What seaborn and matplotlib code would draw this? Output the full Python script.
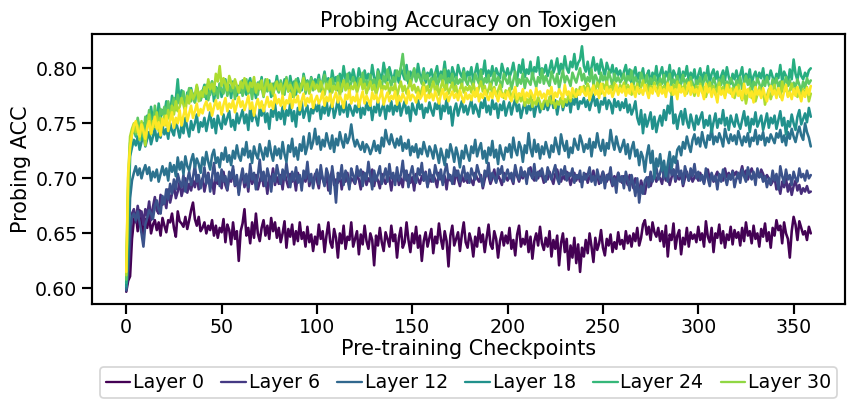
import numpy as np
import pandas as pd
import matplotlib
matplotlib.use("Agg")
import matplotlib.pyplot as plt
from matplotlib.lines import Line2D
import seaborn as sns

# Probing accuracy per checkpoint (x1000)
layer_0 = [
    597, 607, 611, 645, 662, 668, 652, 671, 660, 648, 663, 655, 667, 650, 658, 662, 653, 660, 648, 664,
    657, 651, 662, 660, 668, 655, 647, 670, 661, 659, 656, 665, 654, 662, 671, 678, 663, 657, 665, 652,
    655, 660, 650, 657, 653, 662, 648, 657, 646, 655, 651, 663, 642, 658, 653, 640, 660, 645, 652, 625,
    652, 659, 672, 648, 655, 641, 660, 646, 668, 650, 643, 655, 662, 648, 657, 645, 664, 652, 660, 646,
    655, 642, 650, 661, 637, 654, 647, 658, 640, 652, 643, 660, 645, 651, 638, 656, 642, 649, 634, 647,
    640, 658, 645, 652, 633, 648, 660, 642, 637, 654, 646, 628, 650, 641, 657, 636, 647, 644, 660, 638,
    645, 652, 631, 649, 640, 657, 643, 636, 650, 644, 621, 648, 639, 655, 642, 634, 651, 645, 638, 657,
    643, 649, 628, 646, 655, 637, 642, 660, 644, 633, 650, 641, 656, 637, 648, 625, 643, 651, 638, 646,
    654, 632, 647, 641, 659, 645, 636, 652, 643, 620, 648, 657, 639, 645, 651, 634, 649, 660, 642, 637,
    650, 643, 629, 647, 638, 655, 642, 649, 633, 646, 658, 640, 636, 652, 645, 628, 643, 651, 639, 648,
    641, 655, 636, 644, 630, 649, 657, 638, 645, 640, 652, 633, 647, 627, 643, 650, 639, 656, 641, 635,
    646, 638, 652, 629, 644, 636, 648, 621, 641, 650, 633, 645, 617, 639, 628, 646, 623, 640, 615, 637,
    629, 644, 632, 650, 638, 624, 646, 635, 641, 653, 637, 630, 645, 639, 649, 633, 642, 636, 651, 640,
    644, 636, 652, 641, 648, 638, 650, 643, 655, 639, 646, 658, 662, 649, 656, 644, 660, 651, 647, 655,
    643, 652, 638, 657, 629, 649, 644, 659, 636, 648, 653, 631, 646, 640, 655, 638, 651, 645, 649, 642,
    656, 644, 650, 638, 661, 647, 642, 655, 633, 650, 646, 658, 641, 652, 637, 649, 644, 656, 640, 653,
    646, 651, 639, 655, 643, 660, 648, 652, 641, 657, 645, 650, 638, 654, 647, 659, 643, 651, 637, 655,
    648, 662, 653, 657, 641, 660, 650, 645, 628, 652, 665, 658, 644, 661, 655, 649, 652, 644, 656, 650,
]
layer_4 = [
    600, 612, 640, 668, 672, 660, 675, 665, 670, 658, 672, 666, 679, 662, 674, 683, 671, 668, 685, 676,
    681, 673, 690, 678, 686, 694, 682, 688, 697, 684, 691, 700, 687, 695, 689, 698, 692, 703, 690, 696,
    700, 688, 697, 705, 692, 699, 686, 702, 695, 700, 691, 706, 694, 689, 701, 697, 708, 693, 700, 687,
    698, 704, 692, 701, 688, 707, 695, 699, 703, 690, 697, 705, 693, 700, 686, 702, 698, 709, 694, 701,
    695, 703, 690, 706, 698, 692, 704, 697, 701, 689, 705, 699, 694, 702, 697, 708, 693, 700, 696, 704,
    698, 691, 706, 700, 695, 703, 689, 701, 707, 694, 699, 696, 704, 690, 702, 697, 705, 693, 700, 698,
    695, 703, 699, 690, 706, 701, 694, 700, 697, 708, 693, 702, 698, 691, 704, 699, 695, 703, 700, 689,
    701, 697, 705, 694, 700, 692, 707, 698, 703, 696, 701, 689, 704, 699, 695, 702, 698, 706, 693, 700,
    697, 703, 699, 692, 705, 700, 696, 702, 690, 704, 698, 701, 695, 707, 699, 693, 703, 697, 700, 696,
    702, 698, 694, 705, 700, 697, 703, 691, 699, 706, 702, 695, 700, 708, 697, 703, 699, 694, 705, 701,
    698, 704, 700, 695, 709, 702, 697, 703, 700, 706, 699, 704, 710, 701, 698, 705, 700, 707, 703, 696,
    702, 699, 706, 700, 695, 704, 708, 701, 697, 703, 699, 706, 702, 694, 700, 705, 698, 703, 697, 701,
    699, 704, 696, 702, 700, 707, 698, 703, 695, 701, 706, 700, 697, 704, 699, 693, 702, 698, 705, 700,
    696, 702, 699, 694, 703, 697, 691, 700, 695, 688, 698, 692, 686, 696, 701, 693, 699, 704, 697, 702,
    700, 695, 706, 698, 703, 694, 701, 708, 697, 702, 699, 705, 693, 700, 706, 698, 703, 697, 701, 704,
    698, 705, 700, 696, 703, 708, 699, 704, 697, 702, 706, 700, 703, 698, 709, 701, 705, 699, 707, 703,
    706, 700, 704, 711, 702, 707, 699, 705, 709, 703, 700, 706, 701, 708, 704, 698, 703, 700, 694, 697,
    701, 690, 694, 686, 697, 692, 700, 688, 695, 685, 693, 698, 689, 694, 686, 691, 688, 693, 687, 688,
]
layer_8 = [
    598, 620, 655, 665, 668, 662, 670, 660, 650, 638, 658, 664, 671, 668, 663, 675, 680, 672, 668, 684,
    677, 690, 681, 695, 686, 699, 690, 704, 697, 692, 703, 688, 698, 706, 694, 701, 712, 697, 703, 691,
    699, 710, 695, 704, 688, 701, 714, 698, 705, 693, 708, 697, 702, 690, 706, 700, 711, 694, 703, 685,
    700, 709, 696, 704, 692, 713, 699, 705, 690, 702, 717, 698, 706, 693, 709, 701, 688, 704, 697, 712,
    703, 695, 708, 699, 714, 701, 692, 706, 698, 710, 696, 703, 689, 707, 700, 715, 697, 704, 691, 702,
    708, 695, 712, 700, 693, 709, 703, 686, 711, 698, 678, 705, 699, 712, 694, 707, 701, 690, 709, 703,
    696, 711, 702, 708, 693, 705, 699, 715, 702, 690, 707, 698, 704, 711, 695, 702, 709, 697, 713, 700,
    705, 694, 710, 698, 703, 716, 699, 707, 692, 704, 711, 700, 696, 709, 703, 714, 698, 705, 692, 708,
    701, 697, 712, 704, 699, 708, 694, 706, 713, 700, 703, 695, 710, 702, 707, 697, 704, 711, 699, 705,
    696, 709, 703, 699, 712, 705, 700, 693, 707, 702, 714, 698, 705, 701, 696, 709, 704, 711, 697, 703,
    708, 700, 705, 697, 712, 703, 699, 710, 702, 706, 695, 709, 704, 700, 713, 698, 706, 702, 709, 701,
    697, 710, 704, 699, 706, 712, 700, 695, 708, 703, 711, 698, 705, 702, 709, 696, 703, 700, 707, 692,
    705, 699, 703, 710, 697, 702, 694, 708, 700, 696, 706, 691, 703, 699, 710, 694, 700, 687, 705, 697,
    702, 691, 706, 698, 689, 703, 695, 684, 700, 678, 693, 686, 698, 701, 692, 706, 697, 703, 710, 699,
    705, 712, 700, 709, 697, 714, 703, 708, 699, 716, 702, 707, 695, 711, 704, 698, 709, 702, 713, 700,
    706, 698, 703, 695, 709, 700, 693, 705, 698, 702, 690, 704, 697, 708, 701, 694, 703, 699, 706, 692,
    700, 705, 696, 708, 702, 697, 710, 703, 699, 706, 694, 709, 701, 704, 697, 702, 692, 700, 695, 707,
    698, 704, 690, 711, 702, 696, 708, 699, 703, 694, 706, 700, 697, 709, 701, 704, 698, 707, 700, 703,
]
layer_12 = [
    600, 628, 682, 698, 705, 711, 703, 709, 700, 707, 712, 704, 710, 698, 706, 701, 708, 697, 704, 711,
    703, 709, 698, 714, 706, 712, 702, 719, 708, 715, 704, 720, 711, 707, 716, 722, 710, 718, 713, 705,
    719, 712, 724, 715, 708, 721, 726, 714, 719, 710, 723, 717, 728, 715, 721, 712, 725, 718, 730, 720,
    716, 727, 721, 733, 719, 725, 714, 729, 722, 718, 731, 724, 717, 728, 720, 734, 723, 716, 729, 721,
    727, 718, 733, 722, 715, 730, 724, 736, 720, 728, 717, 731, 725, 738, 722, 729, 741, 727, 733, 745,
    731, 738, 726, 735, 729, 741, 733, 727, 739, 724, 736, 730, 742, 734, 728, 740, 732, 737, 749, 736,
    729, 735, 730, 726, 733, 724, 731, 728, 722, 727, 734, 725, 730, 723, 737, 729, 744, 735, 731, 740,
    733, 728, 736, 730, 738, 725, 732, 727, 735, 721, 729, 724, 731, 719, 727, 722, 733, 726, 720, 729,
    725, 718, 730, 723, 714, 727, 720, 712, 726, 719, 731, 724, 715, 728, 721, 710, 725, 718, 730, 722,
    716, 729, 723, 735, 720, 727, 732, 718, 725, 714, 728, 721, 734, 719, 726, 713, 730, 722, 717, 728,
    724, 731, 719, 737, 726, 721, 733, 728, 715, 730, 723, 741, 727, 720, 735, 724, 731, 718, 729, 722,
    733, 726, 719, 730, 724, 737, 729, 722, 740, 731, 725, 734, 719, 728, 723, 736, 730, 726, 739, 733,
    724, 731, 727, 736, 720, 733, 728, 741, 730, 725, 735, 721, 732, 727, 744, 733, 726, 738, 730, 724,
    729, 735, 722, 731, 718, 727, 733, 720, 726, 712, 724, 719, 706, 721, 730, 714, 725, 700, 718, 711,
    722, 707, 716, 702, 713, 724, 709, 720, 714, 726, 729, 721, 733, 727, 738, 730, 724, 735, 740, 731,
    737, 729, 742, 733, 728, 739, 735, 746, 731, 738, 733, 741, 736, 729, 745, 737, 732, 740, 734, 739,
    731, 743, 736, 730, 738, 733, 741, 729, 737, 734, 744, 731, 739, 735, 742, 730, 737, 733, 740, 736,
    732, 741, 737, 744, 733, 739, 730, 742, 736, 745, 738, 733, 741, 747, 739, 735, 750, 742, 737, 729,
]
layer_16 = [
    602, 655, 720, 728, 735, 730, 738, 726, 733, 740, 729, 736, 742, 731, 738, 745, 734, 741, 737, 748,
    740, 745, 736, 750, 743, 739, 752, 745, 737, 748, 741, 755, 746, 738, 752, 744, 750, 758, 742, 751,
    747, 755, 743, 752, 760, 746, 754, 741, 757, 750, 745, 758, 749, 755, 761, 747, 753, 744, 759, 750,
    756, 762, 750, 758, 744, 765, 752, 760, 755, 748, 763, 757, 766, 751, 759, 745, 762, 756, 768, 753,
    760, 754, 765, 749, 762, 757, 768, 752, 761, 747, 764, 758, 770, 755, 761, 766, 752, 763, 759, 767,
    761, 768, 754, 765, 759, 771, 757, 764, 769, 755, 762, 773, 758, 766, 760, 770, 756, 767, 762, 757,
    766, 760, 771, 755, 764, 758, 769, 762, 767, 753, 765, 760, 772, 757, 763, 768, 754, 766, 761, 770,
    758, 766, 761, 772, 757, 764, 770, 759, 765, 752, 768, 762, 758, 771, 763, 767, 755, 764, 760, 769,
    762, 757, 768, 763, 770, 754, 766, 761, 772, 759, 765, 748, 762, 768, 757, 764, 770, 760, 766, 758,
    765, 771, 759, 767, 762, 756, 769, 764, 773, 760, 766, 758, 771, 763, 768, 755, 767, 762, 770, 757,
    764, 769, 758, 766, 772, 761, 767, 755, 763, 770, 759, 766, 762, 771, 756, 765, 769, 760, 767, 763,
    770, 762, 767, 775, 764, 771, 758, 768, 773, 762, 769, 766, 774, 760, 772, 767, 776, 763, 770, 768,
    773, 765, 771, 762, 769, 776, 766, 772, 760, 770, 767, 774, 763, 771, 768, 759, 772, 765, 770, 762,
    769, 764, 772, 760, 767, 758, 763, 770, 755, 749, 762, 741, 758, 747, 753, 760, 745, 756, 742, 751,
    757, 748, 762, 753, 766, 759, 775, 750, 758, 745, 756, 761, 749, 763, 752, 746, 758, 751, 744, 757,
    749, 755, 760, 746, 753, 748, 757, 742, 751, 759, 746, 754, 750, 762, 748, 755, 744, 757, 751, 747,
    758, 750, 745, 753, 761, 748, 756, 742, 754, 749, 760, 747, 752, 757, 744, 751, 759, 746, 755, 750,
    757, 745, 753, 761, 748, 755, 740, 752, 747, 758, 750, 744, 756, 762, 749, 754, 759, 751, 764, 756,
]
layer_20 = [
    605, 680, 728, 740, 745, 738, 752, 744, 735, 750, 742, 757, 748, 765, 752, 760, 747, 768, 755, 762,
    758, 770, 763, 757, 775, 766, 772, 790, 768, 780, 773, 765, 778, 770, 782, 774, 769, 783, 775, 771,
    779, 785, 772, 781, 776, 788, 770, 783, 778, 786, 774, 781, 790, 777, 785, 773, 788, 780, 775, 784,
    778, 789, 783, 776, 786, 791, 779, 784, 773, 787, 781, 792, 776, 785, 780, 789, 774, 786, 782, 793,
    781, 787, 778, 790, 785, 779, 793, 783, 788, 776, 791, 784, 780, 795, 786, 789, 778, 792, 785, 790,
    786, 794, 781, 789, 797, 785, 791, 783, 798, 788, 792, 780, 795, 787, 802, 790, 785, 796, 789, 799,
    791, 787, 800, 793, 785, 798, 790, 795, 788, 803, 792, 786, 799, 794, 790, 805, 795, 789, 801, 794,
    788, 798, 792, 787, 800, 795, 790, 803, 786, 797, 792, 799, 789, 804, 794, 791, 800, 787, 796, 793,
    799, 790, 795, 802, 788, 797, 793, 806, 791, 798, 787, 801, 795, 790, 803, 796, 792, 800, 789, 797,
    793, 801, 788, 796, 804, 791, 799, 795, 807, 790, 798, 793, 802, 789, 800, 795, 791, 804, 797, 793,
    800, 792, 797, 805, 794, 790, 803, 796, 808, 792, 799, 795, 806, 791, 801, 797, 810, 794, 800, 796,
    803, 793, 799, 807, 796, 801, 809, 795, 804, 798, 811, 800, 796, 806, 801, 813, 799, 805, 808, 820,
    802, 797, 806, 794, 801, 810, 798, 804, 795, 808, 800, 793, 805, 799, 796, 803, 791, 800, 794, 798,
    790, 797, 803, 792, 799, 786, 795, 801, 789, 796, 792, 800, 787, 794, 798, 785, 796, 790, 802, 788,
    795, 801, 789, 797, 792, 803, 787, 798, 794, 790, 800, 786, 797, 793, 802, 788, 796, 791, 799, 785,
    794, 800, 788, 796, 791, 802, 787, 795, 799, 790, 797, 785, 793, 798, 789, 801, 792, 786, 795, 790,
    798, 789, 794, 801, 787, 795, 790, 799, 786, 793, 797, 788, 796, 791, 800, 787, 794, 790, 798, 792,
    787, 795, 791, 803, 788, 797, 793, 786, 799, 790, 808, 795, 789, 801, 793, 790, 796, 792, 798, 800,
]
layer_24 = [
    608, 690, 732, 742, 748, 740, 755, 745, 750, 738, 756, 748, 762, 752, 745, 766, 756, 749, 763, 758,
    765, 754, 770, 760, 767, 773, 762, 776, 768, 771, 779, 766, 774, 782, 770, 777, 769, 784, 775, 771,
    780, 774, 785, 771, 779, 788, 776, 782, 773, 786, 780, 777, 789, 775, 783, 779, 787, 772, 784, 778,
    786, 775, 781, 790, 777, 784, 772, 787, 781, 776, 788, 783, 774, 790, 779, 785, 780, 775, 787, 782,
    778, 789, 783, 776, 792, 780, 787, 774, 785, 790, 779, 786, 782, 793, 777, 788, 784, 791, 780, 786,
    783, 790, 779, 787, 794, 782, 788, 776, 791, 785, 781, 793, 786, 779, 789, 784, 795, 780, 787, 792,
    785, 780, 791, 787, 796, 783, 789, 781, 794, 786, 790, 779, 797, 788, 784, 793, 787, 799, 790, 784,
    792, 787, 798, 793, 801, 813, 795, 789, 797, 784, 792, 800, 788, 795, 791, 786, 797, 790, 794, 783,
    791, 786, 796, 782, 790, 794, 787, 799, 783, 791, 788, 795, 780, 792, 786, 790, 784, 797, 789, 785,
    792, 788, 783, 795, 790, 786, 798, 784, 791, 787, 794, 781, 789, 796, 785, 792, 788, 783, 795, 790,
    786, 793, 781, 789, 797, 784, 790, 786, 795, 782, 791, 788, 785, 796, 789, 783, 792, 787, 799, 786,
    793, 788, 784, 797, 791, 786, 795, 782, 790, 798, 787, 793, 789, 784, 796, 791, 787, 794, 800, 789,
    795, 786, 792, 788, 799, 785, 794, 790, 783, 796, 789, 793, 786, 797, 791, 784, 795, 788, 792, 787,
    790, 795, 786, 793, 789, 798, 785, 792, 788, 784, 796, 790, 787, 794, 781, 791, 786, 793, 788, 784,
    791, 786, 794, 780, 789, 795, 784, 790, 786, 793, 781, 788, 794, 785, 790, 783, 792, 787, 780, 789,
    786, 792, 783, 789, 794, 781, 788, 784, 791, 786, 779, 790, 785, 793, 782, 788, 784, 791, 787, 780,
    789, 784, 792, 781, 787, 793, 785, 790, 778, 788, 783, 791, 786, 780, 789, 784, 792, 785, 781, 790,
    785, 791, 783, 788, 779, 786, 792, 784, 789, 781, 787, 783, 790, 785, 779, 788, 782, 791, 786, 789,
]
layer_28 = [
    612, 700, 738, 745, 750, 742, 748, 735, 752, 744, 730, 746, 758, 740, 752, 747, 760, 743, 755, 750,
    757, 748, 762, 753, 766, 758, 770, 761, 765, 773, 767, 760, 775, 768, 780, 772, 776, 785, 770, 779,
    774, 783, 777, 790, 781, 786, 779, 795, 788, 802, 784, 791, 786, 780, 793, 787, 782, 790, 784, 778,
    788, 782, 791, 785, 779, 787, 783, 792, 778, 786, 781, 789, 775, 784, 790, 780, 786, 777, 783, 788,
    780, 786, 776, 784, 789, 779, 785, 781, 774, 787, 782, 778, 785, 791, 780, 786, 777, 783, 788, 781,
    785, 779, 788, 782, 776, 786, 781, 790, 778, 784, 780, 787, 775, 783, 789, 780, 786, 778, 784, 781,
    787, 778, 784, 790, 781, 786, 777, 783, 788, 780, 785, 776, 782, 789, 779, 784, 781, 787, 777, 783,
    780, 786, 774, 782, 788, 779, 784, 777, 783, 789, 780, 785, 778, 783, 775, 781, 787, 779, 784, 776,
    782, 788, 779, 784, 776, 783, 789, 780, 785, 777, 782, 787, 779, 784, 773, 781, 786, 778, 783, 780,
    784, 778, 786, 780, 775, 783, 788, 779, 784, 776, 781, 786, 778, 783, 775, 780, 785, 777, 773, 780,
    776, 782, 771, 778, 773, 769, 777, 770, 775, 766, 772, 768, 776, 765, 771, 767, 774, 769, 763, 770,
    772, 766, 774, 768, 771, 764, 770, 767, 773, 765, 772, 769, 776, 770, 778, 774, 781, 776, 783, 779,
    784, 778, 786, 781, 776, 785, 780, 787, 782, 777, 786, 781, 788, 779, 784, 780, 787, 782, 778, 785,
    781, 787, 779, 785, 782, 776, 784, 780, 786, 777, 783, 789, 780, 785, 778, 784, 781, 787, 779, 783,
    786, 780, 784, 778, 787, 782, 776, 785, 781, 788, 779, 784, 780, 786, 777, 783, 788, 781, 775, 784,
    780, 786, 778, 783, 774, 781, 787, 779, 784, 776, 782, 787, 778, 783, 775, 780, 785, 777, 782, 773,
    779, 785, 776, 771, 780, 768, 777, 782, 773, 779, 770, 776, 783, 774, 780, 767, 775, 781, 772, 778,
    785, 776, 781, 774, 788, 779, 783, 775, 780, 786, 777, 782, 774, 779, 772, 781, 776, 783, 770, 777,
]
layer_31 = [
    615, 705, 728, 740, 748, 752, 744, 738, 749, 743, 736, 747, 752, 741, 748, 756, 745, 751, 739, 754,
    748, 757, 743, 753, 760, 746, 755, 750, 762, 748, 757, 764, 752, 759, 766, 755, 761, 768, 757, 763,
    759, 766, 770, 762, 768, 757, 765, 771, 763, 769, 758, 767, 773, 761, 768, 764, 771, 760, 767, 774,
    765, 770, 762, 768, 775, 763, 769, 757, 766, 772, 764, 770, 761, 767, 774, 765, 770, 763, 776, 768,
    772, 766, 775, 763, 771, 768, 777, 764, 772, 769, 775, 762, 771, 777, 766, 773, 769, 776, 764, 771,
    775, 768, 772, 779, 766, 774, 770, 777, 765, 773, 778, 769, 775, 771, 764, 776, 772, 780, 768, 774,
    770, 777, 765, 773, 779, 768, 775, 771, 766, 778, 772, 776, 769, 774, 780, 767, 773, 778, 770, 775,
    772, 779, 767, 775, 770, 777, 773, 768, 780, 771, 776, 774, 769, 778, 772, 775, 783, 770, 776, 773,
    777, 771, 779, 774, 768, 776, 781, 772, 778, 770, 775, 779, 773, 777, 771, 780, 774, 769, 778, 772,
    776, 771, 779, 774, 782, 770, 777, 773, 780, 775, 771, 778, 773, 781, 776, 770, 779, 774, 777, 772,
    779, 774, 770, 778, 783, 772, 777, 775, 781, 771, 778, 774, 780, 776, 771, 782, 775, 779, 773, 777,
    772, 780, 776, 783, 771, 778, 774, 781, 777, 772, 785, 776, 779, 773, 782, 777, 774, 780, 776, 783,
    778, 775, 782, 771, 779, 784, 776, 780, 773, 786, 778, 775, 783, 777, 781, 774, 779, 785, 776, 782,
    778, 784, 775, 781, 777, 786, 779, 774, 783, 778, 781, 776, 785, 779, 773, 782, 777, 784, 780, 775,
    783, 777, 781, 774, 786, 779, 783, 776, 781, 772, 785, 778, 782, 775, 780, 787, 776, 783, 778, 781,
    775, 784, 779, 772, 786, 778, 782, 774, 781, 777, 769, 783, 776, 780, 773, 785, 778, 781, 774, 779,
    783, 775, 780, 772, 786, 777, 781, 774, 779, 769, 783, 776, 780, 773, 782, 775, 770, 779, 784, 776,
    780, 773, 782, 776, 771, 779, 785, 774, 778, 772, 781, 775, 783, 777, 770, 779, 774, 782, 776, 784,
]

series = [layer_0, layer_4, layer_8, layer_12, layer_16, layer_20, layer_24, layer_28, layer_31]
legend_labels = ["Layer 0", "Layer 6", "Layer 12", "Layer 18", "Layer 24", "Layer 30"]

for s in series:
    assert len(s) == 360, len(s)

rows = []
for i, s in enumerate(series):
    for ckpt, v in enumerate(s):
        rows.append({"checkpoint": ckpt, "acc": v / 1000, "line": i})
df = pd.DataFrame(rows)

sns.set_theme(style="ticks", context="talk")
plt.rcParams["font.family"] = ["DejaVu Sans"]
for key in ["text.color", "axes.labelcolor", "xtick.color", "ytick.color", "axes.edgecolor"]:
    plt.rcParams[key] = "black"

# full-range viridis, same as plt.cm.viridis
line_colors = [tuple(c) for c in plt.cm.viridis(np.linspace(0, 1, len(series)))]
legend_colors = [tuple(c) for c in plt.cm.viridis(np.linspace(0, 1, 7))[:6]]

DPI = 83
fig, ax = plt.subplots(figsize=(849 / DPI, 405 / DPI), dpi=DPI)
fig.subplots_adjust(left=0.1084, right=0.9953, top=0.916, bottom=0.2494)

sns.lineplot(data=df, x="checkpoint", y="acc", hue="line", palette=line_colors,
             legend=False, ax=ax)

ax.set_title("Probing Accuracy on Toxigen")
ax.set_xlabel("Pre-training Checkpoints", labelpad=1)
ax.set_ylabel("Probing ACC")
ax.set_xticks([0, 50, 100, 150, 200, 250, 300, 350])
ax.set_yticks([0.60, 0.65, 0.70, 0.75, 0.80])

handles = [Line2D([0], [0], color=c, lw=2) for c in legend_colors]
ax.legend(handles, legend_labels, loc="upper center", bbox_to_anchor=(0.5, -0.2),
          ncol=6, handlelength=1.3, handletextpad=0.15, columnspacing=0.9,
          borderpad=0.3)

plt.savefig("out.png", dpi=DPI)
